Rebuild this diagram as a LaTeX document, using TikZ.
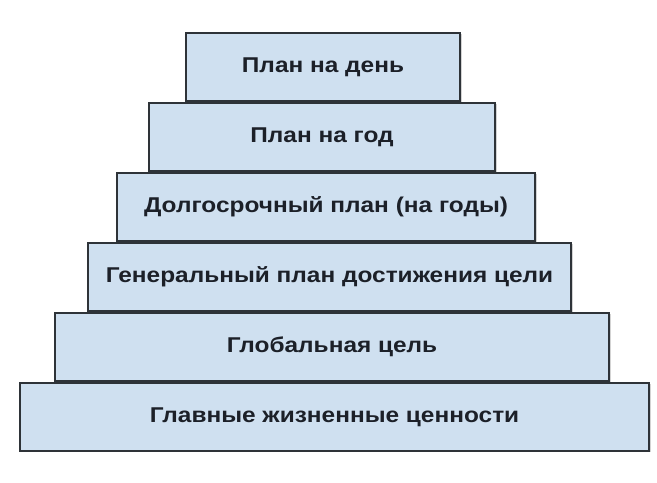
\documentclass[tikz,border=0pt]{standalone}
\usepackage{fontspec}
\setmainfont{Liberation Sans}
\newfontfamily\stepfont[FakeStretch=1.14]{Liberation Sans}
\usepackage{tikz}
\usetikzlibrary{shadows}
\definecolor{stepfill}{HTML}{CFE0F0}
\definecolor{stepline}{HTML}{2E3338}
\definecolor{steptext}{HTML}{1C2028}
\begin{document}
\begin{tikzpicture}[level/.style={draw=stepline,line width=1.3bp,fill=stepfill,
    minimum height=68bp,inner sep=0pt,font=\stepfont\bfseries\fontsize{21.5}{24}\selectfont,text=steptext,
    drop shadow={shadow xshift=1.5bp,shadow yshift=-1.5bp,opacity=0.35}}]
\useasboundingbox (0bp,0bp) rectangle (657bp,483bp);

\node (L1) at (323bp,416bp)[level,minimum width=274bp] {План на день};
\node (L2) at (322bp,346bp)[level,minimum width=346bp] {План на год};
\node (L3) at (326bp,276bp)[level,minimum width=418bp] {Долгосрочный план (на годы)};
\node (L4) at (329.5bp,206bp)[level,minimum width=483bp] {Генеральный план достижения цели};
\node (L5) at (332bp,136bp)[level,minimum width=554bp] {Глобальная цель};
\node (L6) at (334.5bp,66bp)[level,minimum width=629bp] {Главные жизненные ценности};
\end{tikzpicture}
\end{document}
